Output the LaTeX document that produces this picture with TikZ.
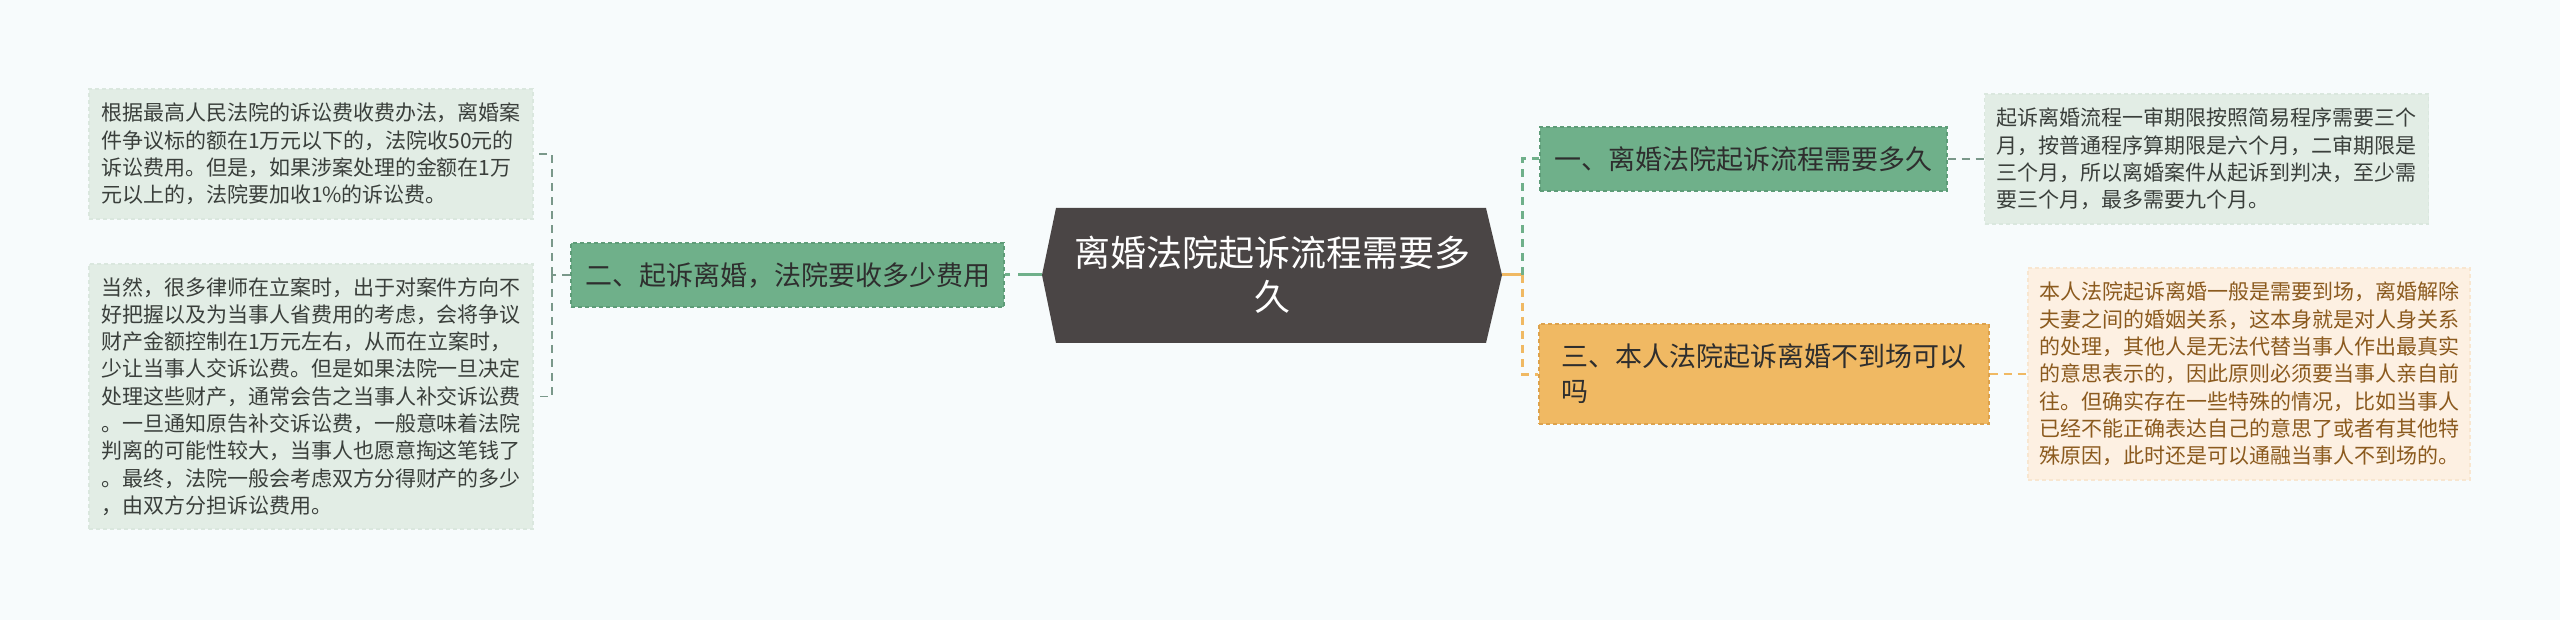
\documentclass[tikz,border=0pt]{standalone}
\usepackage{fontspec}
\setmainfont{Noto Sans CJK SC}
\usetikzlibrary{positioning}
\definecolor{bgc}{HTML}{F7FBFC}
\definecolor{gfill}{HTML}{6FB08A}
\definecolor{gdraw}{HTML}{5E9C78}
\definecolor{lgfill}{HTML}{E2EDE5}
\definecolor{lgdraw}{HTML}{DAE7DE}
\definecolor{ofill}{HTML}{F0B963}
\definecolor{odraw}{HTML}{DDA24C}
\definecolor{cfill}{HTML}{FDF0E2}
\definecolor{cdraw}{HTML}{F8E6D0}
\definecolor{centc}{HTML}{4A4545}
\definecolor{dtext}{HTML}{2E2E2E}
\definecolor{ltext}{HTML}{3A3F3B}
\definecolor{btext}{HTML}{8B5A1E}
\definecolor{grayg}{HTML}{7A988A}
\tikzset{
  branchbox/.style={rectangle, draw=gdraw, fill=gfill, dash pattern=on 4pt off 3pt, line width=1.2pt, text=dtext, font=\fontsize{27}{35}\selectfont, align=left, inner sep=0pt},
  leafg/.style={rectangle, draw=lgdraw, fill=lgfill, dash pattern=on 4pt off 3pt, line width=1.2pt, text=ltext, font=\fontsize{21}{27.3}\selectfont, align=left, text width=420pt, inner xsep=12pt, inner ysep=0pt},
  leafo/.style={rectangle, draw=cdraw, fill=cfill, dash pattern=on 4pt off 3pt, line width=1.2pt, text=btext, font=\fontsize{21}{27.3}\selectfont, align=left, text width=420pt, inner xsep=11pt, inner ysep=0pt},
  thinline/.style={draw=grayg, line width=1.6pt, dash pattern=on 8pt off 6pt},
  gline/.style={draw=gfill, line width=3pt, dash pattern=on 8pt off 6pt},
  oline/.style={draw=ofill, line width=3pt, dash pattern=on 8pt off 6pt},
  othin/.style={draw=ofill, line width=1.6pt, dash pattern=on 8pt off 6pt},
}
\begin{document}
\begin{tikzpicture}[x=1pt,y=-1pt]
\fill[bgc] (0,0) rectangle (2560,620);
\useasboundingbox (0,0) rectangle (2560,620);
% center
\fill[centc] (1042,275) -- (1056,208) -- (1486,208) -- (1502,275) -- (1486,343) -- (1056,343) -- cycle;
\node[minimum width=460pt, minimum height=135pt, inner sep=0pt, text=white, align=center, font=\fontsize{36}{44}\selectfont] (c) at (1272,275) {离婚法院起诉流程需要多\\久};
\coordinate (cw) at (1042,275);
\coordinate (ce) at (1502,275);
% left branch
\node[branchbox, minimum width=433pt, minimum height=64pt] (lb) at (787.5,275) {二、起诉离婚，法院要收多少费用};
\node[leafg, minimum height=130pt] (l1) at (311,154) {根据最高人民法院的诉讼费收费办法，离婚案\\件争议标的额在1万元以下的，法院收50元的\\诉讼费用。但是，如果涉案处理的金额在1万\\元以上的，法院要加收1\%的诉讼费。};
\node[leafg, minimum height=265pt] (l2) at (311,396.5) {当然，很多律师在立案时，出于对案件方向不\\好把握以及为当事人省费用的考虑，会将争议\\财产金额控制在1万元左右，从而在立案时，\\少让当事人交诉讼费。但是如果法院一旦决定\\处理这些财产，通常会告之当事人补交诉讼费\\。一旦通知原告补交诉讼费，一般意味着法院\\判离的可能性较大，当事人也愿意掏这笔钱了\\。最终，法院一般会考虑双方分得财产的多少\\，由双方分担诉讼费用。};
% right branches
\node[branchbox, minimum width=407pt, minimum height=64pt] (r1) at (1743.5,159) {一、离婚法院起诉流程需要多久};
\node[branchbox, draw=odraw, fill=ofill, minimum width=450pt, minimum height=100pt] (r3) at (1764,374) {三、本人法院起诉离婚不到场可以\\吗};
\node[leafg, minimum height=130pt] (rl1) at (2206.5,159) {起诉离婚流程一审期限按照简易程序需要三个\\月，按普通程序算期限是六个月，二审期限是\\三个月，所以离婚案件从起诉到判决，至少需\\要三个月，最多需要九个月。};
\node[leafo, minimum height=212pt] (rl3) at (2249,374) {本人法院起诉离婚一般是需要到场，离婚解除\\夫妻之间的婚姻关系，这本身就是对人身关系\\的处理，其他人是无法代替当事人作出最真实\\的意思表示的，因此原则必须要当事人亲自前\\往。但确实存在一些特殊的情况，比如当事人\\已经不能正确表达自己的意思了或者有其他特\\殊原因，此时还是可以通融当事人不到场的。};
% connectors
\coordinate (lj) at (552,275);
\coordinate (rj) at (1522,275);
\draw[draw=gfill, line width=3pt, dash pattern=on 24pt off 8pt] (cw) -- (lb.east);
\draw[thinline] (lb.west) -- (lj);
\draw[thinline] (lj) |- (l1.east);
\draw[thinline] (lj) |- (l2.east);
\draw[draw=ofill, line width=3pt] (ce) -- (rj);
\draw[gline] (rj) |- (r1.west);
\draw[oline] (rj) |- (r3.west);
\draw[thinline] (r1.east) -- (rl1.west);
\draw[othin] (r3.east) -- (rl3.west);
\end{tikzpicture}
\end{document}
